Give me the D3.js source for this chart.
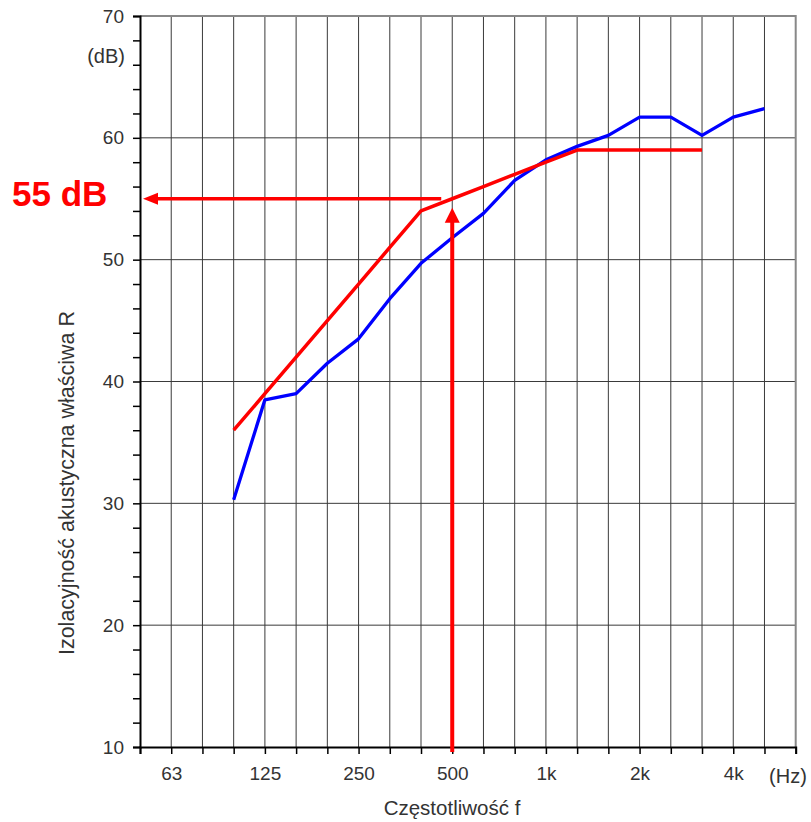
<!DOCTYPE html>
<html>
<head>
<meta charset="utf-8">
<script src="https://cdn.jsdelivr.net/npm/d3@7"></script>
<style>
  body { margin: 0; background: #fff; }
  svg { display: block; font-family: Arial, "Liberation Sans", sans-serif; }
</style>
</head>
<body>
<div id="chart"></div>
<script>
// third-octave bands on the x axis
var bands = ["50", "63", "80", "100", "125", "160", "200", "250", "315", "400", "500",
  "630", "800", "1000", "1250", "1600", "2000", "2500", "3150", "4000", "5000", "6300"];
var xTickBands = ["63", "125", "250", "500", "1000", "2000", "4000"];
var xTickLabels = ["63", "125", "250", "500", "1k", "2k", "4k"];
var yTicks = [10, 20, 30, 40, 50, 60, 70];

// measured curve (blue)
var measuredBands = ["100", "125", "160", "200", "250", "315", "400", "500", "630",
  "800", "1000", "1250", "1600", "2000", "2500", "3150", "4000", "5000"];
var measuredR = [30.3, 38.5, 39.0, 41.5, 43.5, 46.8, 49.7, 51.8, 53.8,
  56.5, 58.2, 59.3, 60.2, 61.7, 61.7, 60.2, 61.7, 62.4];

// shifted reference curve (red)
var refBands = ["100", "125", "160", "200", "250", "315", "400", "500", "630",
  "800", "1000", "1250", "1600", "2000", "2500", "3150"];
var refR = [36, 39, 42, 45, 48, 51, 54, 55, 56, 57, 58, 59, 59, 59, 59, 59];

// single-number result
var resultBand = "500";
var resultR = 55;

var W = 811, H = 822;
var plotL = 140, plotR = 795.7, plotT = 16, plotB = 747;
var textCol = "#333";

var svg = d3.select("#chart").append("svg")
  .attr("width", W)
  .attr("height", H);

var x = d3.scalePoint().domain(bands).range([plotL, plotR]);
var y = d3.scaleLinear().domain([10, 70]).range([plotB, plotT]);

// grid
svg.append("g")
  .selectAll("line")
  .data(bands.slice(1, -1))
  .enter().append("line")
  .attr("x1", d => x(d)).attr("x2", d => x(d))
  .attr("y1", plotT).attr("y2", plotB)
  .style("stroke", "#3a3a3a")
  .style("stroke-width", 1);

svg.append("g")
  .selectAll("line")
  .data(yTicks.slice(1, -1))
  .enter().append("line")
  .attr("x1", plotL).attr("x2", plotR)
  .attr("y1", d => y(d)).attr("y2", d => y(d))
  .style("stroke", "#3a3a3a")
  .style("stroke-width", 1);

// top and right border
svg.append("path")
  .attr("d", "M" + plotL + "," + y(70) + "H" + plotR + "V" + plotB)
  .style("fill", "none")
  .style("stroke", "#888")
  .style("stroke-width", 2);

// y axis: ticks every 2 dB, labels every 10
var yAxis = d3.axisLeft(y)
  .tickValues(d3.range(10, 71, 2))
  .tickSize(7)
  .tickFormat(d => d % 10 === 0 ? d : "");
var gy = svg.append("g")
  .attr("transform", "translate(" + plotL + ",0)")
  .call(yAxis);
gy.select(".domain").style("stroke", "#000").style("stroke-width", 2);
gy.selectAll(".tick line").style("stroke", "#000").style("stroke-width", 1.5);
gy.selectAll(".tick text")
  .attr("x", -16)
  .style("font-size", "19px")
  .style("fill", textCol)
  .style("font-family", "Arial, 'Liberation Sans', sans-serif");

// x axis: tick at every band, labels every octave
var xAxis = d3.axisBottom(x)
  .tickSize(7)
  .tickPadding(13)
  .tickFormat(d => {
    var i = xTickBands.indexOf(d);
    return i < 0 ? "" : xTickLabels[i];
  });
var gx = svg.append("g")
  .attr("transform", "translate(0," + plotB + ")")
  .call(xAxis);
gx.select(".domain").style("stroke", "#000").style("stroke-width", 2);
gx.selectAll(".tick line").style("stroke", "#000").style("stroke-width", 1.5);
gx.selectAll(".tick text")
  .style("font-size", "19px")
  .style("fill", textCol)
  .style("font-family", "Arial, 'Liberation Sans', sans-serif");

// unit labels
svg.append("text")
  .attr("x", 125).attr("y", 63)
  .attr("text-anchor", "end")
  .style("font-size", "20px")
  .style("fill", textCol)
  .text("(dB)");
svg.append("text")
  .attr("x", 788).attr("y", 783)
  .attr("text-anchor", "middle")
  .style("font-size", "20px")
  .style("fill", textCol)
  .text("(Hz)");

// axis titles
svg.append("text")
  .attr("transform", "translate(74,483) rotate(-90)")
  .attr("text-anchor", "middle")
  .style("font-size", "21.5px")
  .style("fill", textCol)
  .text("Izolacyjność akustyczna właściwa R");
svg.append("text")
  .attr("x", 452).attr("y", 815)
  .attr("text-anchor", "middle")
  .style("font-size", "20.5px")
  .style("fill", textCol)
  .text("Częstotliwość f");

// curves
var line = d3.line()
  .x(d => x(d.band))
  .y(d => y(d.r));

svg.append("path")
  .datum(measuredBands.map((b, i) => ({band: b, r: measuredR[i]})))
  .attr("d", line)
  .style("fill", "none")
  .style("stroke", "#0000ff")
  .style("stroke-width", 3.3)
  .style("stroke-linejoin", "round");

svg.append("path")
  .datum(refBands.map((b, i) => ({band: b, r: refR[i]})))
  .attr("d", line)
  .style("fill", "none")
  .style("stroke", "#ff0000")
  .style("stroke-width", 3.5)
  .style("stroke-linejoin", "round");

// result arrows
var rx = x(resultBand), ry = y(resultR);
var red = "#ff0000";

// vertical arrow from the axis up to the reference curve
svg.append("line")
  .attr("x1", rx).attr("x2", rx)
  .attr("y1", plotB + 5).attr("y2", ry + 20)
  .style("stroke", red)
  .style("stroke-width", 4);
svg.append("path")
  .attr("d", "M" + rx + "," + (ry + 9) + "L" + (rx + 7.5) + "," + (ry + 24) + "L" + (rx - 7.5) + "," + (ry + 24) + "Z")
  .style("fill", red);

// horizontal arrow to the R axis
svg.append("line")
  .attr("x1", rx - 11).attr("x2", plotL + 14)
  .attr("y1", ry).attr("y2", ry)
  .style("stroke", red)
  .style("stroke-width", 3.5);
svg.append("path")
  .attr("d", "M" + (plotL + 3) + "," + ry + "L" + (plotL + 18) + "," + (ry - 6) + "L" + (plotL + 18) + "," + (ry + 6) + "Z")
  .style("fill", red);

svg.append("text")
  .attr("x", 12).attr("y", ry + 7)
  .style("font-size", "35px")
  .style("font-weight", "bold")
  .style("fill", red)
  .text(resultR + " dB");
</script>
</body>
</html>
